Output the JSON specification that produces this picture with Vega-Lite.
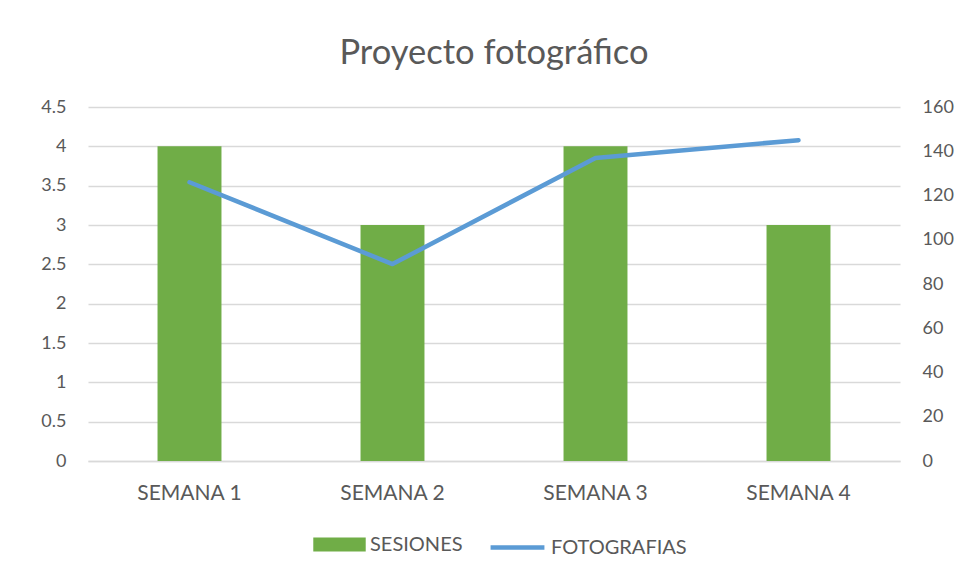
{
  "$schema": "https://vega.github.io/schema/vega-lite/v6.json",
  "width": 812,
  "height": 354,
  "autosize": {"type": "none"},
  "padding": {"left": 88, "top": 107, "right": 79, "bottom": 118},
  "background": "white",
  "title": {
    "text": "Proyecto fotográfico",
    "font": "Lato",
    "fontSize": 34.5,
    "fontWeight": "normal",
    "color": "#595959",
    "anchor": "middle",
    "offset": 27
  },
  "data": {
    "values": [
      {"semana": "SEMANA 1", "sesiones": 4, "fotografias": 126},
      {"semana": "SEMANA 2", "sesiones": 3, "fotografias": 89},
      {"semana": "SEMANA 3", "sesiones": 4, "fotografias": 137},
      {"semana": "SEMANA 4", "sesiones": 3, "fotografias": 145}
    ]
  },
  "encoding": {
    "x": {
      "field": "semana",
      "type": "nominal",
      "sort": null,
      "scale": {"paddingInner": 0.685, "paddingOuter": 0.3425},
      "axis": {
        "title": null,
        "labelAngle": 0,
        "labelFont": "Lato",
        "labelFontSize": 21,
        "labelColor": "#595959",
        "labelPadding": 21,
        "ticks": false,
        "domainColor": "#D9D9D9",
        "domainWidth": 1.5
      }
    }
  },
  "layer": [
    {
      "mark": {"type": "bar"},
      "encoding": {
        "y": {
          "field": "sesiones",
          "type": "quantitative",
          "scale": {"domain": [0, 4.5], "nice": false},
          "axis": {
            "title": null,
            "values": [0, 0.5, 1, 1.5, 2, 2.5, 3, 3.5, 4, 4.5],
            "format": ".1~f",
            "domain": false,
            "ticks": false,
            "labelFont": "Lato",
            "labelFontSize": 18,
            "labelColor": "#595959",
            "labelPadding": 22,
            "gridColor": "#D9D9D9",
            "gridWidth": 1.5
          }
        },
        "fill": {
          "datum": "SESIONES",
          "scale": {"domain": ["SESIONES"], "range": ["#70AD47"]},
          "legend": {
            "title": null,
            "orient": "none",
            "legendX": 225,
            "legendY": 411,
            "symbolType": "M-1,-0.27H1V0.27H-1Z",
            "symbolSize": 2750,
            "symbolStrokeWidth": 0,
            "labelFont": "Lato",
            "labelFontSize": 20,
            "labelColor": "#595959",
            "labelOffset": 4
          }
        }
      }
    },
    {
      "mark": {"type": "line", "strokeWidth": 4.5, "strokeCap": "round", "strokeJoin": "round"},
      "encoding": {
        "y": {
          "field": "fotografias",
          "type": "quantitative",
          "scale": {"domain": [0, 160], "nice": false},
          "axis": {
            "title": null,
            "orient": "right",
            "values": [0, 20, 40, 60, 80, 100, 120, 140, 160],
            "grid": false,
            "domain": false,
            "ticks": false,
            "labelFont": "Lato",
            "labelFontSize": 18,
            "labelColor": "#595959",
            "labelPadding": 22
          }
        },
        "stroke": {
          "datum": "FOTOGRAFIAS",
          "scale": {"domain": ["FOTOGRAFIAS"], "range": ["#5B9BD5"]},
          "legend": {
            "title": null,
            "orient": "none",
            "legendX": 400,
            "legendY": 411,
            "symbolType": "stroke",
            "symbolSize": 2900,
            "symbolStrokeWidth": 4.5,
            "labelFont": "Lato",
            "labelFontSize": 20,
            "labelColor": "#595959",
            "labelOffset": 4
          }
        }
      }
    }
  ],
  "resolve": {"scale": {"y": "independent"}},
  "config": {"view": {"stroke": null}}
}
